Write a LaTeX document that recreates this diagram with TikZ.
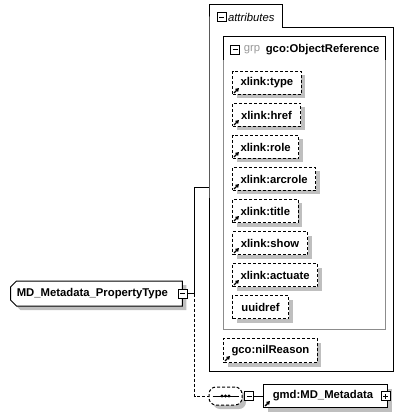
\documentclass[tikz,border=0pt]{standalone}
\usepackage{fontspec}
\setmainfont{Liberation Sans}
\usepackage{tikz}
\usetikzlibrary{arrows.meta,shapes,shadows,positioning}
\tikzstyle{boxshadow} = [drop shadow={shadow xshift=4pt,shadow yshift=-4pt,fill=black!25,opacity=1}]
\tikzstyle{attr} = [draw, dash pattern=on 3pt off 2pt, fill=white, boxshadow, anchor=north west, minimum height=23pt, inner xsep=8pt]
\tikzstyle{elem} = [draw, fill=white, boxshadow]
\tikzstyle{minusbox} = [draw, fill=white, minimum size=9pt, inner sep=0pt, path picture={\draw ([xshift=2pt]path picture bounding box.west) -- ([xshift=-2pt]path picture bounding box.east);}]
\tikzstyle{plusbox} = [draw, fill=white, minimum size=9pt, inner sep=0pt, path picture={\draw ([xshift=2pt]path picture bounding box.west) -- ([xshift=-2pt]path picture bounding box.east); \draw ([yshift=2pt]path picture bounding box.south) -- ([yshift=-2pt]path picture bounding box.north);}]
\tikzstyle{link} = [line width=1.4pt,-{Triangle[length=3.5pt,width=4pt]}]

\begin{document}
\begin{tikzpicture}[x=1pt, y=-1pt, line width=1pt, font=\fontsize{11.3}{13}\selectfont\bfseries]
    \useasboundingbox (0,0) rectangle (404,419);

    % complex type on the left
    \node[elem, chamfered rectangle, chamfered rectangle corners={north west,south west}, chamfered rectangle sep=3pt, minimum width=171pt, minimum height=25pt, anchor=west] (ptype) at (10,293.5) {MD\_Metadata\_PropertyType\hspace*{8pt}};
    \node[minusbox] (pminus) at (ptype.east) {};
    \coordinate (fork) at ([xshift=7pt]pminus.east);

    % attributes box with its tab
    \draw (209,28) -- (209,5) -- (282,5) -- (282,28) -- (393,28) -- (393,371) -- (209,371) -- cycle;
    \coordinate (attrin) at (209,188);
    \node[minusbox] (aminus) at (221.5,17.5) {};
    \node[right=0pt of aminus, inner xsep=1pt] (atitle) {\mdseries\itshape attributes};

    % attribute group
    \draw[black!45] (223,60) -- (223,329) -- (385,329) -- (385,60);
    \draw (223,60) -- (223,37) -- (385,37) -- (385,60);
    \node[minusbox] (gminus) at (235,50) {};
    \node[right=0pt of gminus, text=black!40] (gkey) {\mdseries grp};
    \node[right=-2pt of gkey] (gname) {gco:ObjectReference};

    % attributes of the group
    \foreach \n/\t/\y/\w in {type/xlink:type/71/68, href/xlink:href/103/68, role/xlink:role/135/66, arcrole/xlink:arcrole/167/83, title/xlink:title/199/65, show/xlink:show/231/75, actuate/xlink:actuate/263/84, uuid/uuidref/295/56}
        \node[attr, minimum width=\w pt] (\n) at (232,\y) {\t};
    \node[attr, minimum width=93pt, minimum height=24pt] (nil) at (223,338) {gco:nilReason};

    % reference arrows
    \foreach \n in {type,href,role,arcrole,title,show,actuate,nil}
        \draw[link] ([shift={(2,-2)}]\n.south west) -- ++(5,-5);

    % sequence and element
    \node[draw, dash pattern=on 3pt off 2pt, fill=white, rounded corners=7pt, minimum width=33pt, minimum height=18pt, boxshadow] (seq) at (225.5,396) {};
    \draw ([xshift=4pt]seq.west) -- ([xshift=-4pt]seq.east);
    \foreach \dx in {-3.5,0,3.5}
        \fill ([xshift=\dx pt]seq.center) circle (1.6pt);
    \node[minusbox, right=1.5pt of seq] (sminus) {};
    \node[elem, minimum width=124pt, minimum height=23pt, anchor=west] (meta) at (263,396) {gmd:MD\_Metadata\hspace*{5pt}};
    \node[plusbox] (mplus) at ([xshift=-2.5pt]meta.east) {};
    \draw[link] ([shift={(2,-2)}]meta.south west) -- ++(5,-5);

    % connectors
    \draw (pminus.east) -- (fork) |- (attrin);
    \draw[dash pattern=on 3pt off 2pt] (fork) |- (seq.west);
    \draw (sminus.east) -- (meta.west);
\end{tikzpicture}
\end{document}
